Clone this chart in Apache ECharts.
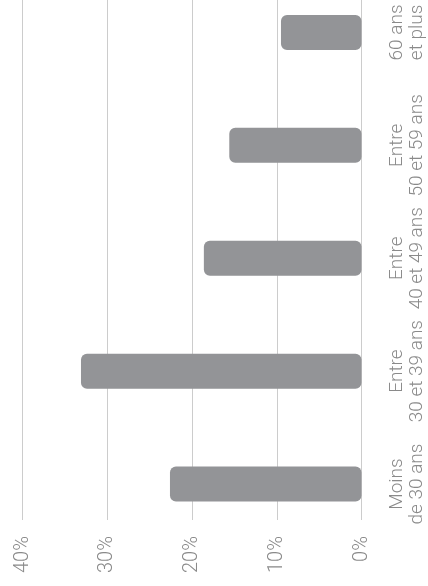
<!DOCTYPE html>
<html>
<head>
<meta charset="utf-8">
<script src="https://cdn.jsdelivr.net/npm/echarts@6/dist/echarts.min.js"></script>
<style>
html,body{margin:0;padding:0;background:#fff;}
#chart{width:428px;height:586px;}
</style>
</head>
<body>
<div id="chart"></div>
<script>
var categories = ['Moins\nde 30 ans', 'Entre\n30 et 39 ans', 'Entre\n40 et 49 ans', 'Entre\n50 et 59 ans', '60 ans\net plus'];
var values = [22.6, 33.1, 18.6, 15.6, 9.5];
var valueMin = 0;
var valueMax = 40;
var valueStep = 10;

var chart = echarts.init(document.getElementById('chart'), null, {renderer: 'canvas'});
var labelFont = 'Roboto';
var labelColor = '#8a8a8a';

chart.setOption({
  animation: false,
  backgroundColor: '#ffffff',
  grid: [
    {left: 22.5, right: 66.5, top: 0, bottom: 66, containLabel: false, outerBoundsMode: 'none'},
    {left: 22.5, right: 66.5, top: -24, bottom: 45.5, containLabel: false, outerBoundsMode: 'none'}
  ],
  xAxis: [
    {
      gridIndex: 0, type: 'value', inverse: true, min: valueMin, max: valueMax, interval: valueStep,
      position: 'bottom',
      axisLine: {show: false}, axisTick: {show: false},
      splitLine: {show: true, lineStyle: {color: '#cccccc', width: 1}},
      axisLabel: {
        show: true, rotate: 90, margin: 16,
        formatter: function (v) { return v + '%'; },
        fontFamily: labelFont, fontWeight: 300, fontSize: 20, color: labelColor
      }
    },
    {
      gridIndex: 1, type: 'value', inverse: true, min: valueMin, max: valueMax, interval: valueStep,
      show: false
    }
  ],
  yAxis: [
    {
      gridIndex: 0, type: 'category', data: categories, show: false
    },
    {
      gridIndex: 1, type: 'category', data: categories, position: 'right',
      axisLine: {show: false}, axisTick: {show: false}, splitLine: {show: false},
      axisLabel: {
        show: true, rotate: 90, margin: 26, interval: 0,
        fontFamily: labelFont, fontWeight: 300, fontSize: 19, lineHeight: 20, color: labelColor
      }
    }
  ],
  series: [
    {
      type: 'bar', xAxisIndex: 1, yAxisIndex: 1,
      data: values, barWidth: 35,
      itemStyle: {color: '#939497', borderRadius: 6},
      label: {show: false}
    }
  ]
});
</script>
</body>
</html>
